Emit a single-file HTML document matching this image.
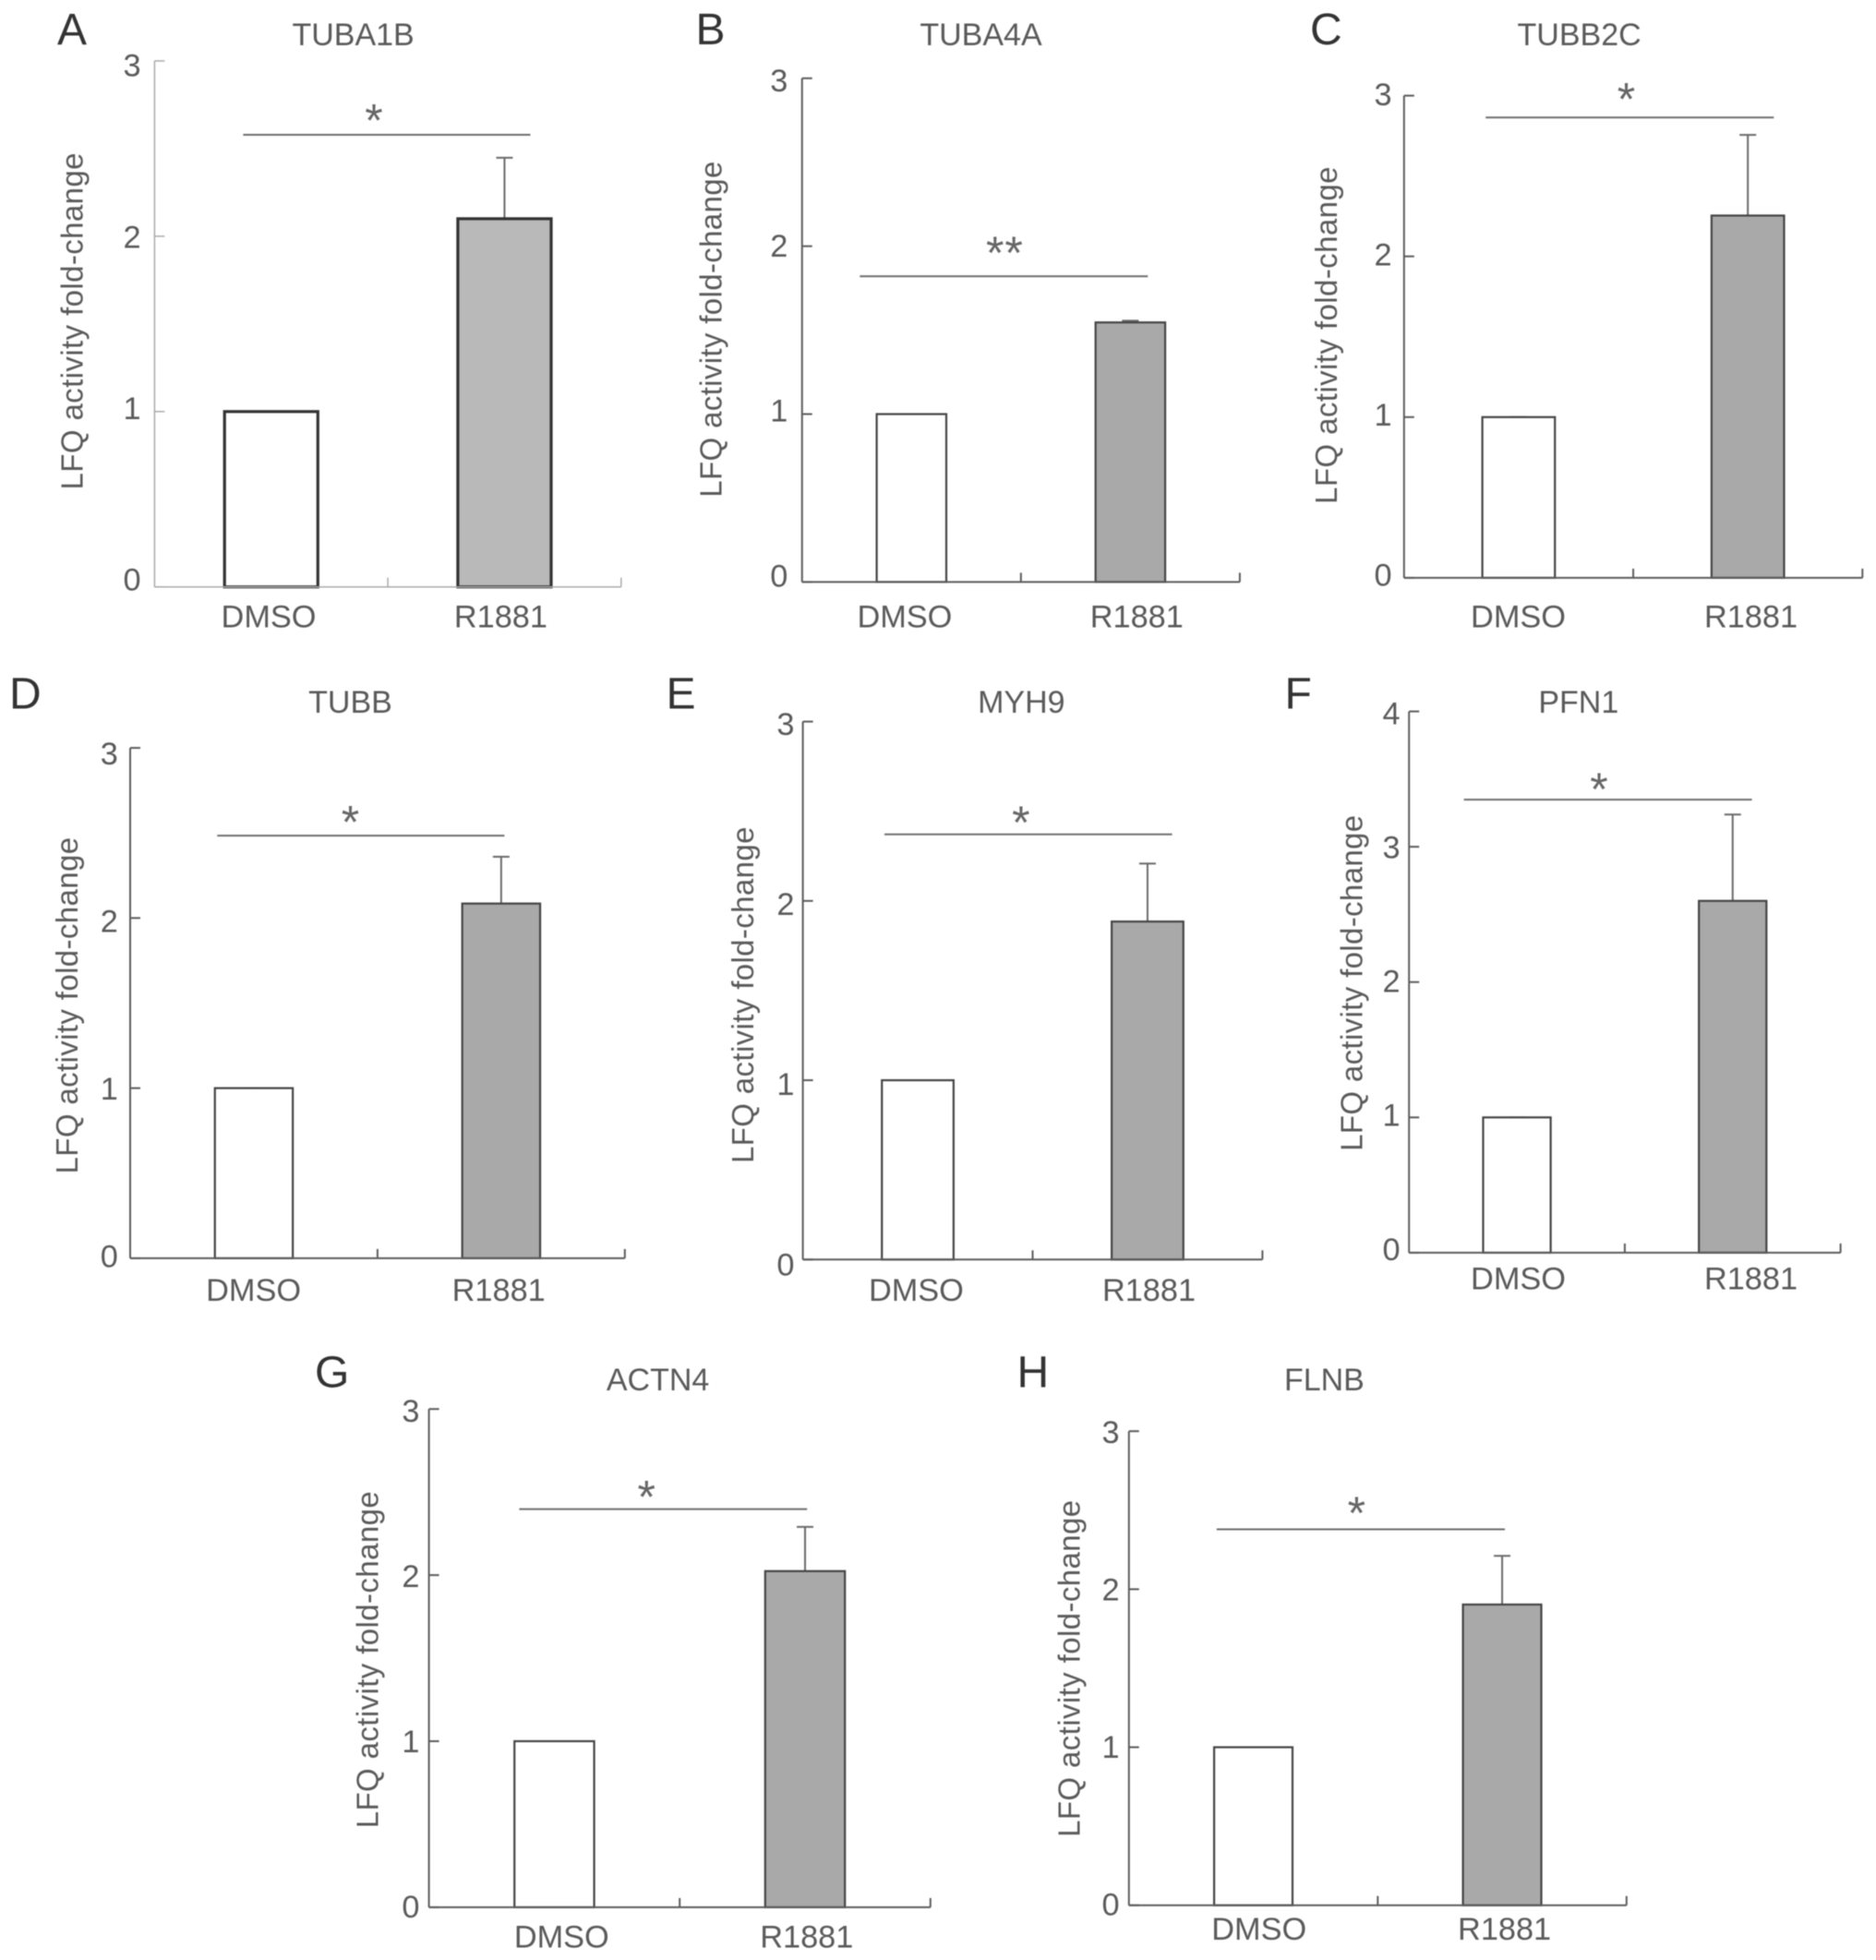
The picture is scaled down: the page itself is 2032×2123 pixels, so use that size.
<!DOCTYPE html>
<html lang="en">
<head>
<meta charset="utf-8">
<title>LFQ activity fold-change panels</title>
<style>
  html, body { margin: 0; padding: 0; background: #ffffff; }
  #figure { display: block; width: 2032px; height: 2123px; filter: blur(0.6px); }
  text { font-family: "Liberation Sans", sans-serif; fill: #5a5a5a; }
  .letter { font-size: 48px; fill: #333333; }
  .title { font-size: 34px; text-anchor: middle; }
  .ylabel { font-size: 33px; text-anchor: middle; }
  .tick-label { font-size: 34.3px; text-anchor: middle; }
  .star { font-size: 50px; text-anchor: middle; fill: #666666; }
</style>
</head>
<body>
<svg id="figure" xmlns="http://www.w3.org/2000/svg" width="2032" height="2123" viewBox="0 0 2032 2123">
  <g id="panel-a">
    <text class="letter" x="62" y="48">A</text>
    <text class="title" x="382.6" y="49">TUBA1B</text>
    <text class="ylabel" transform="rotate(-90 89.5 348)" x="89.5" y="348" textLength="365">LFQ activity fold-change</text>
  </g>
  <g id="panel-b">
    <text class="letter" x="753.5" y="48">B</text>
    <text class="title" x="1062.5" y="49">TUBA4A</text>
    <text class="ylabel" transform="rotate(-90 781.5 356.7)" x="781.5" y="356.7" textLength="364">LFQ activity fold-change</text>
  </g>
  <g id="panel-c">
    <text class="letter" x="1419" y="48">C</text>
    <text class="title" x="1710.6" y="49">TUBB2C</text>
    <text class="ylabel" transform="rotate(-90 1447.9 363.2)" x="1447.9" y="363.2" textLength="365.5">LFQ activity fold-change</text>
  </g>
  <g id="panel-d">
    <text class="letter" x="10" y="767.4">D</text>
    <text class="title" x="379.5" y="772">TUBB</text>
    <text class="ylabel" transform="rotate(-90 84 1089.2)" x="84" y="1089.2" textLength="364.5">LFQ activity fold-change</text>
  </g>
  <g id="panel-e">
    <text class="letter" x="721.5" y="767.4">E</text>
    <text class="title" x="1106.3" y="772">MYH9</text>
    <text class="ylabel" transform="rotate(-90 816 1077.8)" x="816" y="1077.8" textLength="364.5">LFQ activity fold-change</text>
  </g>
  <g id="panel-f">
    <text class="letter" x="1391.5" y="767.4">F</text>
    <text class="title" x="1709.8" y="772">PFN1</text>
    <text class="ylabel" transform="rotate(-90 1475.5 1064.9)" x="1475.5" y="1064.9" textLength="364">LFQ activity fold-change</text>
  </g>
  <g id="panel-g">
    <text class="letter" x="341" y="1502.3">G</text>
    <text class="title" x="712.6" y="1506">ACTN4</text>
    <text class="ylabel" transform="rotate(-90 409.3 1797.8)" x="409.3" y="1797.8" textLength="365">LFQ activity fold-change</text>
  </g>
  <g id="panel-h">
    <text class="letter" x="1101.5" y="1502.3">H</text>
    <text class="title" x="1434.4" y="1506">FLNB</text>
    <text class="ylabel" transform="rotate(-90 1169.3 1807.4)" x="1169.3" y="1807.4" textLength="365">LFQ activity fold-change</text>
  </g>
</svg>
<script>
// ---- chart data, one entry per panel A..H ----
const categories = ['DMSO', 'R1881'];
const panelIds = ['a', 'b', 'c', 'd', 'e', 'f', 'g', 'h'];
const dmsoValues = [1, 1, 1, 1, 1, 1, 1, 1];
const dmsoErrors = [0, 0, 0, 0, 0, 0, 0, 0];
const r1881Values = [2.10, 1.546, 2.254, 2.085, 1.885, 2.60, 2.024, 1.903];
const r1881Errors = [0.348, 0.01, 0.502, 0.275, 0.323, 0.638, 0.266, 0.308];
const significanceLevels = [2.579, 1.821, 2.864, 2.484, 2.371, 3.348, 2.397, 2.379];
const significanceMarks = ['*', '**', '*', '*', '*', '*', '*', '*'];
const yTickLabels = [
  ['0', '1', '2', '3'],
  ['0', '1', '2', '3'],
  ['0', '1', '2', '3'],
  ['0', '1', '2', '3'],
  ['0', '1', '2', '3'],
  ['0', '1', '2', '3', '4'],
  ['0', '1', '2', '3'],
  ['0', '1', '2', '3']
];

// ---- page layout (pixels, not data) ----
const panelFrames = [
  { x0: 167.4, x1: 672.8, y0: 635.7, yTop: 66, barFrac: 0.4, sig: [263.4, 574.5], star: [405, 122.8], tickX: 143, lblBase: 639.7, lblTop: 82.6, catX: [291, 542.4], catY: 679.5, axis: '#aaaaaa', axisW: 1.5, barLine: '#333333', barW: 3.2, fill: '#b9b9b9' },
  { x0: 868.75, x1: 1342.9, y0: 630.4, yTop: 84.8, barFrac: 0.318, sig: [931.3, 1243.3], star: [1088.4, 266.5], tickX: 843.8, lblBase: 635.3, lblTop: 99, catX: [979.9, 1231.3], catY: 679.5 },
  { x0: 1520.8, x1: 2017.3, y0: 625.9, yTop: 103.6, barFrac: 0.3166, sig: [1609.2, 1921.3], star: [1761.5, 100], tickX: 1498, lblBase: 634.6, lblTop: 113.8, catX: [1644.5, 1896.5], catY: 679.5 },
  { x0: 141, x1: 676.8, y0: 1362.9, yTop: 810.1, barFrac: 0.315, sig: [235.3, 546.4], star: [379.5, 883.1], tickX: 118.3, lblBase: 1372.5, lblTop: 828, catX: [274.6, 540.2], catY: 1408.8 },
  { x0: 869.6, x1: 1367.4, y0: 1364.3, yTop: 781.6, barFrac: 0.312, sig: [958, 1269.6], star: [1105.8, 883.6], tickX: 850.9, lblBase: 1381.3, lblTop: 795.9, catX: [992.4, 1244.5], catY: 1408.8 },
  { x0: 1526.2, x1: 1993.6, y0: 1356.9, yTop: 770.6, barFrac: 0.313, sig: [1585.6, 1897.6], star: [1732, 847.7], tickX: 1507, lblBase: 1364.8, lblTop: 784.4, catX: [1644.5, 1896.5], catY: 1396.4 },
  { x0: 464.6, x1: 1007.8, y0: 2065.9, yTop: 1526.2, barFrac: 0.318, sig: [562.4, 874.2], star: [700.2, 1614.2], tickX: 444.9, lblBase: 2077.2, lblTop: 1540.2, catX: [608.3, 873.8], catY: 2109.4 },
  { x0: 1222.8, x1: 1761.8, y0: 2063.7, yTop: 1550.2, barFrac: 0.315, sig: [1317.8, 1630], star: [1469.3, 1631.6], tickX: 1203, lblBase: 2074.6, lblTop: 1562.8, catX: [1363.7, 1629.6], catY: 2101.1 }
];

const SVG_NS = 'http://www.w3.org/2000/svg';

function make(tag, attrs, parent, text) {
  const node = document.createElementNS(SVG_NS, tag);
  for (const key in attrs) node.setAttribute(key, attrs[key]);
  if (text !== undefined) node.textContent = text;
  parent.appendChild(node);
  return node;
}

function drawPanel(i) {
  const f = panelFrames[i];
  const id = panelIds[i];
  const group = document.getElementById('panel-' + id);
  const labels = yTickLabels[i];
  const yMax = labels.length - 1;
  const axisColor = f.axis || '#5c5c5c';
  const axisWidth = f.axisW || 2;
  const barLine = f.barLine || '#454545';
  const barWidth = f.barW || 2.2;
  const barFill = f.fill || '#a9a9a9';

  // axis functions
  const yScale = v => f.y0 - (v / yMax) * (f.y0 - f.yTop);
  const band = (f.x1 - f.x0) / categories.length;
  const xCenter = k => f.x0 + band * (k + 0.5);
  const w = band * f.barFrac;

  // bars first, so the axes sit on top of their base
  const values = [dmsoValues[i], r1881Values[i]];
  const errors = [dmsoErrors[i], r1881Errors[i]];
  const fills = ['#ffffff', barFill];
  values.forEach((v, k) => {
    const errTop = yScale(v + errors[k]);
    const stem = make('line', { x1: xCenter(k), x2: xCenter(k), y1: yScale(v), y2: errTop, stroke: '#6a6a6a', 'stroke-width': 2 }, group);
    
    

    const cap = make('line', { x1: xCenter(k) - 9, x2: xCenter(k) + 9, y1: errTop, y2: errTop, stroke: '#6a6a6a', 'stroke-width': 2 }, group);
    
    

    const bar = make('rect', { x: xCenter(k) - w / 2, y: yScale(v), width: w, height: yScale(0) - yScale(v), fill: fills[k], stroke: barLine, 'stroke-width': barWidth }, group);
    
    
  });

  // y axis
  const yAxis = make('line', { x1: f.x0, x2: f.x0, y1: f.yTop, y2: f.y0, stroke: axisColor, 'stroke-width': axisWidth }, group);
  
  

  labels.forEach((label, t) => {
    const tick = make('line', { x1: f.x0, x2: f.x0 + 11, y1: yScale(t), y2: yScale(t), stroke: axisColor, 'stroke-width': axisWidth }, group);
    
    

    const labelY = f.lblBase + (f.lblTop - f.lblBase) * t / yMax;
    const tickText = make('text', { class: 'tick-label', x: f.tickX, y: labelY }, group, label);
    
    
  });

  // x axis
  const xAxis = make('line', { x1: f.x0, x2: f.x1, y1: f.y0, y2: f.y0, stroke: axisColor, 'stroke-width': axisWidth }, group);
  
  

  for (let k = 1; k <= categories.length; k++) {
    const tx = f.x0 + band * k;
    const xTick = make('line', { x1: tx, x2: tx, y1: f.y0, y2: f.y0 - 10, stroke: axisColor, 'stroke-width': axisWidth }, group);
    
    
  }

  categories.forEach((name, k) => {
    const catText = make('text', { class: 'tick-label', x: f.catX[k], y: f.catY }, group, name);
    
    
  });

  // significance bracket
  const sigY = yScale(significanceLevels[i]);
  const sigLine = make('line', { x1: f.sig[0], x2: f.sig[1], y1: sigY, y2: sigY, stroke: '#6e6e6e', 'stroke-width': 2 }, group);
  
  

  const star = make('text', { class: 'star', x: f.star[0], y: f.star[1] + 24.5, 'letter-spacing': significanceMarks[i].length > 1 ? 1 : 0 }, group, significanceMarks[i]);
  
  
}

panelIds.forEach((_, i) => drawPanel(i));
</script>
</body>
</html>
